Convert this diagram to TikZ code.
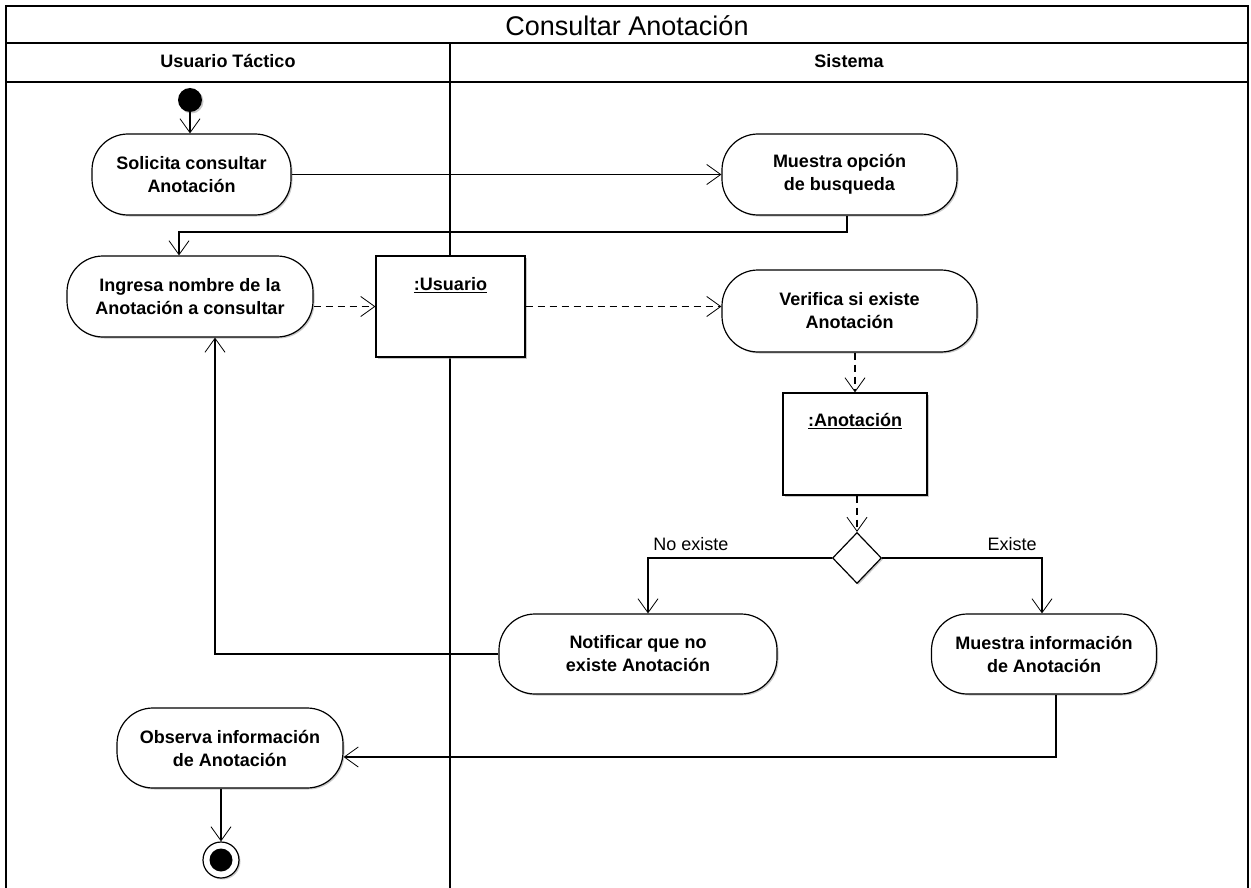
\documentclass[tikz,border=0pt]{standalone}
\usepackage{fontspec}
\setmainfont{Liberation Sans}
\usetikzlibrary{arrows.meta,shapes.geometric,shadows}
\begin{document}
\begin{tikzpicture}[x=1pt,y=-1pt,
  act/.style={draw=black,line width=1.2pt,fill=white,rounded corners=36pt,align=center,
    font=\bfseries\fontsize{18}{23}\selectfont,inner sep=0pt,
    drop shadow={shadow xshift=1.5pt,shadow yshift=-1.5pt,fill=black!35,opacity=0.6}},
  objbox/.style={draw=black,line width=1.2pt,fill=white,inner sep=0pt,
    drop shadow={shadow xshift=1.5pt,shadow yshift=-1.5pt,fill=black!35,opacity=0.6}},
  objlbl/.style={anchor=base,font=\bfseries\fontsize{18}{20}\selectfont,inner sep=0pt},
  arr/.style={line width=1.1pt,-{Straight Barb[length=14pt,width=20pt,line width=0.8pt]}},
  dasharr/.style={arr,dash pattern=on 7pt off 5pt},
  frame/.style={line width=1.8pt},
  lbl/.style={font=\fontsize{18}{20}\selectfont,inner sep=0pt,anchor=base}
]
\useasboundingbox (0,0) rectangle (1251,888);
\fill[white] (0,0) rectangle (1251,888);
% frame
\draw[frame] (6,895) -- (6,6) -- (1248,6) -- (1248,895);
\draw[frame] (6,43) -- (1248,43);
\draw[frame] (6,82) -- (1248,82);
\draw[frame] (450,43) -- (450,895);
\node[font=\fontsize{27}{30}\selectfont] (title) at (627,26) {Consultar Anotación};
\node[font=\bfseries\fontsize{18}{20}\selectfont] (lane1) at (228,61) {Usuario Táctico};
\node[font=\bfseries\fontsize{18}{20}\selectfont] (lane2) at (849,61) {Sistema};

% nodes
\node[circle,fill=black,minimum size=24pt,inner sep=0pt,
  drop shadow={shadow xshift=1.5pt,shadow yshift=-1.5pt,fill=black!35,opacity=0.6}] (start) at (190,100) {};
\node[act,minimum width=199pt,minimum height=81pt] (n1) at (191.5,174.5) {Solicita consultar\\Anotación};
\node[act,minimum width=235pt,minimum height=81pt] (n2) at (839.5,174.5) {Muestra opción\\de busqueda};
\node[act,minimum width=246pt,minimum height=81pt] (n3) at (190,296.5) {Ingresa nombre de la\\Anotación a consultar};
\node[objbox,minimum width=149pt,minimum height=101pt] (obj1) at (450.5,306.5) {};
\node[objlbl] (obj1l) at ([yshift=-35pt]obj1.north) {\underline{:Usuario}};
\node[act,minimum width=255pt,minimum height=82pt] (n4) at (849.5,311) {Verifica si existe\\Anotación};
\node[objbox,minimum width=144pt,minimum height=102pt] (obj2) at (855,444) {};
\node[objlbl] (obj2l) at ([yshift=-34pt]obj2.north) {\underline{:Anotación}};
\node[diamond,draw=black,line width=1.2pt,fill=white,minimum width=49pt,minimum height=51pt,inner sep=0pt,
  drop shadow={shadow xshift=1.5pt,shadow yshift=-1.5pt,fill=black!35,opacity=0.6}] (dia) at (857,558) {};
\node[act,minimum width=278pt,minimum height=80pt] (n5) at (638,654) {Notificar que no\\existe Anotación};
\node[act,minimum width=225pt,minimum height=80pt] (n6) at (1044,654) {Muestra información\\de Anotación};
\node[act,minimum width=226pt,minimum height=80pt] (n7) at (230,748) {Observa información\\de Anotación};
\node[circle,draw=black,line width=1.2pt,fill=white,minimum size=36pt,inner sep=0pt,
  drop shadow={shadow xshift=1.5pt,shadow yshift=-1.5pt,fill=black!35,opacity=0.6}] (end) at (221,860) {};
\node[circle,fill=black,minimum size=23pt,inner sep=0pt] (endin) at (end.center) {};

% connectors
\draw[arr] (start.south) -- (start.south |- n1.north);
\draw[arr] (n1.east) -- (n2.west);
\draw[arr] ([xshift=7.5pt]n2.south) |- (179,232) -- ([xshift=-11pt]n3.north);
\draw[dasharr] (obj1.west -| n3.east) -- (obj1.west);
\draw[dasharr] (obj1.east) -- (obj1.east -| n4.west);
\draw[dasharr] (obj2.north |- n4.south) -- (obj2.north);
\draw[dasharr] (dia.north |- obj2.south) -- (dia.north);
\draw[arr] (dia.west) -| ([xshift=10pt]n5.north);
\draw[arr] (dia.east) -| ([xshift=-2pt]n6.north);
\node[lbl] (lno) at (691,550) {No existe};
\node[lbl] (lsi) at (1012,550) {Existe};
\draw[arr] (n5.west) -| ([xshift=25pt]n3.south);
\draw[arr] ([xshift=12pt]n6.south) |- ([yshift=-9pt]n7.east);
\draw[arr] (n7.south -| end.north) -- (end.north);
\end{tikzpicture}
\end{document}
